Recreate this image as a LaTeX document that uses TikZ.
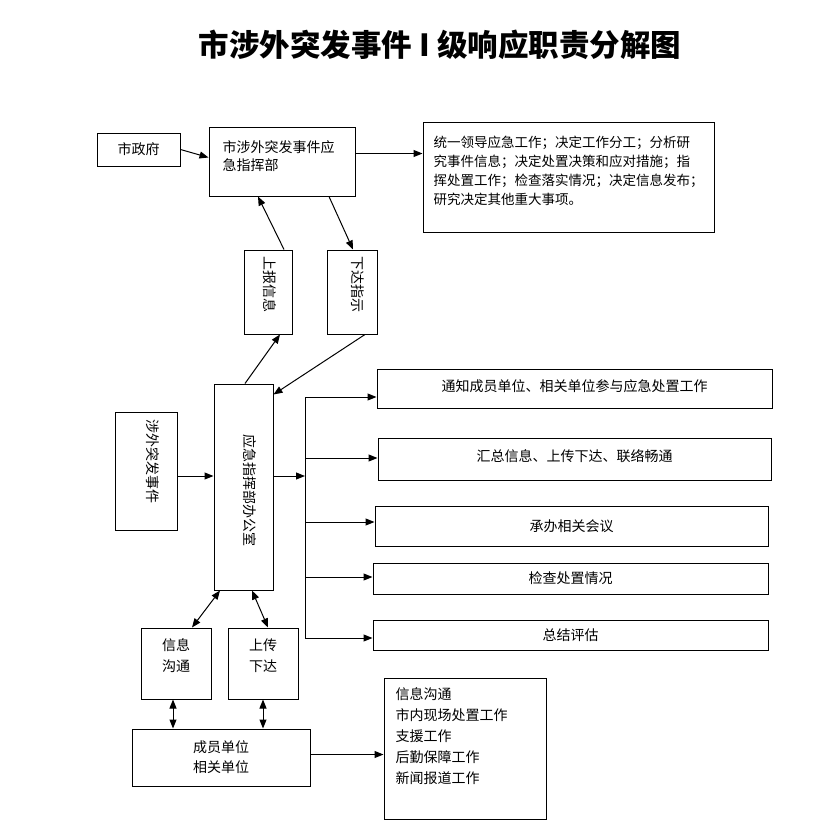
\documentclass[tikz,border=0pt]{standalone}
\usepackage{fontspec}
\setmainfont{Noto Sans CJK SC}
\usetikzlibrary{positioning,arrows.meta}

\begin{document}
\begin{tikzpicture}[x=1pt,y=-1pt,line width=1pt,
	box/.style={draw,line width=1pt,inner sep=0pt},
	txt/.style={inner sep=0pt,font=\fontsize{14}{20}\selectfont},
	>={Triangle[length=9pt,width=7pt]}]
	\useasboundingbox (0,0) rectangle (823,833);

	\node[font=\bfseries\fontsize{30.5}{36}\selectfont] (title) at (440,45) {市涉外突发事件 I 级响应职责分解图};

	% top part
	\node[box,txt,minimum width=83pt,minimum height=33pt] (gov) at (138.5,149.5) {市政府};
	\node[box,minimum width=146pt,minimum height=69pt] (cmd) at (282,161.5) {};
	\node[txt,anchor=north west,align=left,font=\fontsize{14}{18}\selectfont] (cmdtxt) at (222,140.5) {市涉外突发事件应\\急指挥部};
	\node[box,minimum width=291pt,minimum height=110pt] (duty) at (568.5,177) {};
	\node[txt,anchor=north west,align=left,font=\fontsize{13.5}{19}\selectfont] (dutytxt) at (433,135.5)
	{统一领导应急工作；决定工作分工；分析研\\究事件信息；决定处置决策和应对措施；指\\挥处置工作；检查落实情况；决定信息发布；\\研究决定其他重大事项。};

	\node[box,minimum width=48pt,minimum height=84pt] (up) at (268,292) {};
	\node[txt,rotate=-90] (uptxt) at (270,284) {上报信息};
	\node[box,minimum width=50pt,minimum height=84pt] (down) at (352,292) {};
	\node[txt,rotate=-90] (downtxt) at (358,284) {下达指示};

	% office
	\node[box,minimum width=59pt,minimum height=206pt] (office) at (243.5,487) {};
	\node[txt,rotate=-90] (officetxt) at (250,490) {应急指挥部办公室};
	\node[box,minimum width=62pt,minimum height=118pt] (event) at (146,471) {};
	\node[txt,rotate=-90] (eventtxt) at (153,461.5) {涉外突发事件};

	\node[box,txt,minimum width=395pt,minimum height=39pt,text depth=6pt] (r1) at (574.5,388.5) {通知成员单位、相关单位参与应急处置工作};
	\node[box,txt,minimum width=393pt,minimum height=42pt,text depth=6pt] (r2) at (574.5,459) {汇总信息、上传下达、联络畅通};
	\node[box,txt,minimum width=393pt,minimum height=40pt] (r3) at (571.5,526) {承办相关会议};
	\node[box,txt,minimum width=395pt,minimum height=31pt] (r4) at (570.5,578.5) {检查处置情况};
	\node[box,txt,minimum width=395pt,minimum height=30pt] (r5) at (570.5,635) {总结评估};

	% bottom part
	\node[box,minimum width=70pt,minimum height=71pt] (info) at (176,663.5) {};
	\node[txt,anchor=north,align=center,font=\fontsize{14}{21}\selectfont] (infotxt) at (176,638.5) {信息\\沟通};
	\node[box,minimum width=70pt,minimum height=71pt] (relay) at (263,663.5) {};
	\node[txt,anchor=north,align=center,font=\fontsize{14}{21}\selectfont] (relaytxt) at (263,638.5) {上传\\下达};
	\node[box,txt,align=center,minimum width=178pt,minimum height=57pt] (member) at (221,757.5) {成员单位\\相关单位};
	\node[box,minimum width=162pt,minimum height=141pt] (tasks) at (465,748.5) {};
	\node[txt,anchor=north west,align=left,font=\fontsize{14}{21}\selectfont] (taskstxt) at (395,687.5)
	{信息沟通\\市内现场处置工作\\支援工作\\后勤保障工作\\新闻报道工作};

	% connectors
	\draw[->] (gov.east) -- ([yshift=4pt]cmd.west);
	\draw[->] ([yshift=8pt]cmd.east) -- ([yshift=8pt]cmd.east -| duty.west);
	\draw[->] ([xshift=1.5pt]office.north) -- ([xshift=12pt]up.south);
	\draw[->] ([xshift=16pt]up.north) -- ([xshift=-24pt]cmd.south);
	\draw[->] ([xshift=47pt]cmd.south) -- ([xshift=1pt]down.north);
	\draw[->] ([xshift=13pt]down.south) -- ([yshift=-11pt]office.north east);

	\draw[->] ([yshift=-5pt]event.east) -- ([yshift=-5pt]event.east -| office.west);
	\coordinate (t0) at (305,476);
	\coordinate (t1) at (305,397);
	\coordinate (t5) at (305,638);
	\draw[->] (t0 -| office.east) -- (t0);
	\draw (t1) -- (t5);
	\foreach \n/\y in {r1/397,r2/458,r3/522,r4/577,r5/638}
		\draw[->] (305,\y) -- (\n.west |- 305,\y);

	\draw[<->] ([xshift=-23.5pt]office.south) -- ([xshift=16pt]info.north);
	\draw[<->] ([xshift=8.5pt]office.south) -- ([xshift=5pt]relay.north);
	\draw[<->] ([xshift=-3pt]info.south) -- ([xshift=-3pt]info.south |- member.north);
	\draw[<->] (relay.south) -- (relay.south |- member.north);
	\draw[->] ([yshift=3pt]member.east) -- ([yshift=3pt]member.east -| tasks.west);

\end{tikzpicture}
\end{document}
